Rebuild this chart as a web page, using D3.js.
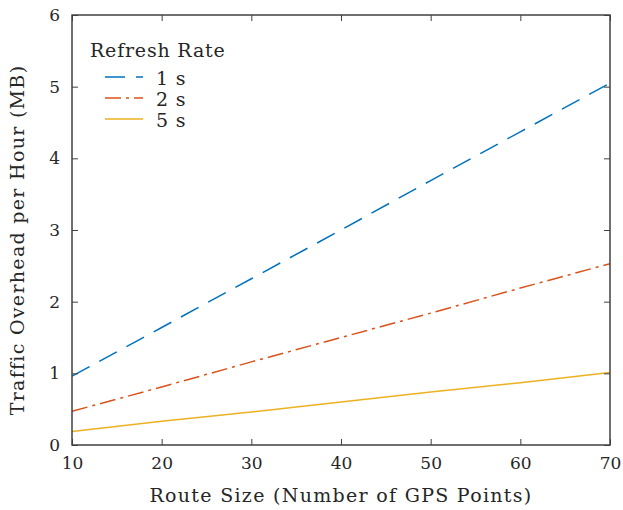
<!DOCTYPE html>
<html>
<head>
<meta charset="utf-8">
<script src="https://cdn.jsdelivr.net/npm/d3@7"></script>
<style>
	body { margin: 0; background: #fff; }
	text { font-family: "DejaVu Serif", "Liberation Serif", serif; fill: #262626; }
</style>
</head>
<body>
<svg id="chart"></svg>
<script>
const routeSizes = [10, 20, 30, 40, 50, 60, 70];
const rate1s = [0.96, 1.64, 2.32, 3.00, 3.69, 4.37, 5.05];
const rate2s = [0.47, 0.81, 1.16, 1.50, 1.84, 2.19, 2.53];
const rate5s = [0.19, 0.33, 0.46, 0.60, 0.74, 0.87, 1.01];
const seriesNames = ["1 s", "2 s", "5 s"];
const xTicks = [10, 20, 30, 40, 50, 60, 70];
const yTicks = [0, 1, 2, 3, 4, 5, 6];

const series = [
	{ name: seriesNames[0], values: rate1s, color: "#0072BD", dash: "20,11" },
	{ name: seriesNames[1], values: rate2s, color: "#D95319", dash: "16,5,3,5" },
	{ name: seriesNames[2], values: rate5s, color: "#EDB120", dash: null }
];

const W = 623, H = 510;
const margin = { top: 15, right: 13, bottom: 65, left: 72 };
const width = W - margin.left - margin.right;
const height = H - margin.top - margin.bottom;
const axisColor = "#404040";

const svg = d3.select("#chart")
	.attr("width", W)
	.attr("height", H);

const g = svg.append("g")
	.attr("transform", `translate(${margin.left},${margin.top})`);

const x = d3.scaleLinear().domain([10, 70]).range([0, width]);
const y = d3.scaleLinear().domain([0, 6]).range([height, 0]);

const line = d3.line()
	.x((d, i) => x(routeSizes[i]))
	.y(d => y(d));

g.selectAll(".series")
	.data(series)
	.enter().append("path")
	.attr("class", "series")
	.attr("d", d => line(d.values))
	.attr("fill", "none")
	.attr("stroke", d => d.color)
	.attr("stroke-width", 1.5)
	.attr("stroke-dasharray", d => d.dash);

function styleAxis(sel) {
	sel.select(".domain").remove();
	sel.selectAll("line").attr("stroke", axisColor).attr("stroke-width", 1);
	sel.selectAll("text").attr("font-size", "17px").attr("fill", "#262626");
}

g.append("g")
	.attr("transform", `translate(0,${height})`)
	.call(d3.axisBottom(x).tickValues(xTicks).tickSize(-6).tickPadding(12).tickFormat(d3.format("d")))
	.call(styleAxis);

g.append("g")
	.call(d3.axisTop(x).tickValues(xTicks).tickSize(-6).tickFormat(""))
	.call(styleAxis);

g.append("g")
	.call(d3.axisLeft(y).tickValues(yTicks).tickSize(-6).tickPadding(12).tickFormat(d3.format("d")))
	.call(styleAxis);

g.append("g")
	.attr("transform", `translate(${width},0)`)
	.call(d3.axisRight(y).tickValues(yTicks).tickSize(-6).tickFormat(""))
	.call(styleAxis);

g.append("rect")
	.attr("width", width)
	.attr("height", height)
	.attr("fill", "none")
	.attr("stroke", axisColor)
	.attr("stroke-width", 1.5);

svg.append("text")
	.attr("x", margin.left + width / 2)
	.attr("y", 502)
	.attr("text-anchor", "middle")
	.attr("font-size", "19px")
	.attr("letter-spacing", "1.3px")
	.text("Route Size (Number of GPS Points)");

svg.append("text")
	.attr("transform", "rotate(-90)")
	.attr("x", -240)
	.attr("y", 24)
	.attr("text-anchor", "middle")
	.attr("font-size", "19px")
	.attr("letter-spacing", "1.3px")
	.text("Traffic Overhead per Hour (MB)");

const legend = svg.append("g")
	.attr("transform", "translate(90,57)");

legend.append("text")
	.attr("x", 0)
	.attr("y", 0)
	.attr("font-size", "19px")
	.attr("letter-spacing", "0.8px")
	.text("Refresh Rate");

const entries = legend.selectAll(".entry")
	.data(series)
	.enter().append("g")
	.attr("class", "entry")
	.attr("transform", (d, i) => `translate(0,${28 + i * 21})`);

entries.append("line")
	.attr("x1", 15)
	.attr("x2", 53)
	.attr("y1", -8)
	.attr("y2", -8)
	.attr("stroke", d => d.color)
	.attr("stroke-width", 1.5)
	.attr("stroke-dasharray", d => d.dash);

entries.append("text")
	.attr("x", 66)
	.attr("y", 0)
	.attr("font-size", "19px")
	.attr("letter-spacing", "0.8px")
	.text(d => d.name);
</script>
</body>
</html>
